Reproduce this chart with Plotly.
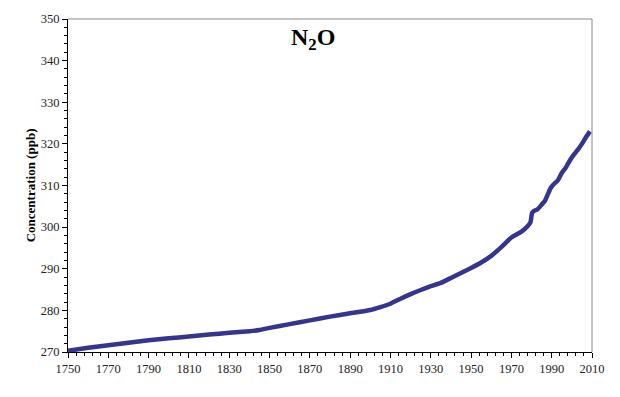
import plotly.graph_objects as go

years = [1750, 1760, 1770, 1780, 1790, 1800, 1810, 1820, 1830, 1840, 1845, 1850,
         1860, 1870, 1880, 1890, 1900, 1905, 1910, 1915, 1920, 1925, 1930, 1935,
         1940, 1945, 1950, 1955, 1960, 1965, 1970, 1975, 1978, 1979.5, 1980.2,
         1981, 1983, 1985, 1986.5, 1988, 1989.5, 1991, 1993, 1995, 1997, 1999,
         2001, 2003, 2005, 2007, 2009]
n2o_ppb = [270.3, 271.0, 271.6, 272.2, 272.8, 273.3, 273.7, 274.2, 274.6, 275.0,
           275.3, 275.8, 276.7, 277.6, 278.5, 279.3, 280.1, 280.8, 281.6, 282.8,
           283.9, 284.9, 285.8, 286.6, 287.8, 289.0, 290.2, 291.5, 293.1, 295.2,
           297.5, 298.9, 300.2, 301.2, 303.3, 303.8, 304.3, 305.4, 306.2, 307.8,
           309.4, 310.3, 311.2, 313.0, 314.3, 316.0, 317.4, 318.6, 320.0, 321.6,
           323.0]

title_text = "N<sub>2</sub>O"
y_label = "Concentration (ppb)"

FONT = "Liberation Serif, Times New Roman, serif"

fig = go.Figure()
fig.add_trace(go.Scatter(
    x=years, y=n2o_ppb, mode="lines",
    line=dict(color="#35348f", width=4.5, shape="spline", smoothing=0.4),
    showlegend=False, hoverinfo="skip",
))

axis_common = dict(
    showgrid=False, zeroline=False, showline=True, linecolor="#000000",
    linewidth=1, ticks="outside", ticklen=5, tickcolor="#000000",
    tickfont=dict(family=FONT, size=12.5, color="#222222"),
)

fig.update_xaxes(
    range=[1750, 2010], tick0=1750, dtick=20,
    minor=dict(ticks="outside", dtick=4, tick0=1750, ticklen=3, tickcolor="#000000"),
    **axis_common,
)
fig.update_yaxes(
    range=[270, 350], tick0=270, dtick=10,
    minor=dict(ticks="outside", dtick=2, tick0=270, ticklen=3, tickcolor="#000000"),
    **axis_common,
)

# top & right gray frame lines
fig.add_shape(type="line", xref="paper", yref="paper", x0=0, x1=1, y0=1, y1=1,
              line=dict(color="#888888", width=1))
fig.add_shape(type="line", xref="paper", yref="paper", x0=1, x1=1, y0=0, y1=1,
              line=dict(color="#888888", width=1))

fig.add_annotation(
    text="<b>" + title_text + "</b>", xref="paper", yref="paper",
    x=0.467, y=0.94, xanchor="center", yanchor="middle", showarrow=False,
    font=dict(family=FONT, size=24, color="#000000"),
)
fig.add_annotation(
    text="<b>" + y_label + "</b>", xref="paper", yref="paper",
    x=-0.071, y=0.5, xanchor="center", yanchor="middle", showarrow=False,
    textangle=-90, font=dict(family=FONT, size=13, color="#000000"),
)

fig.update_layout(
    width=620, height=397,
    margin=dict(l=68, r=28, t=16, b=45),
    paper_bgcolor="#ffffff", plot_bgcolor="#ffffff",
    font=dict(family=FONT),
)

fig.write_html("out.html", config={"displayModeBar": False},
               post_script="document.body.style.margin='0';document.body.style.padding='0';")
